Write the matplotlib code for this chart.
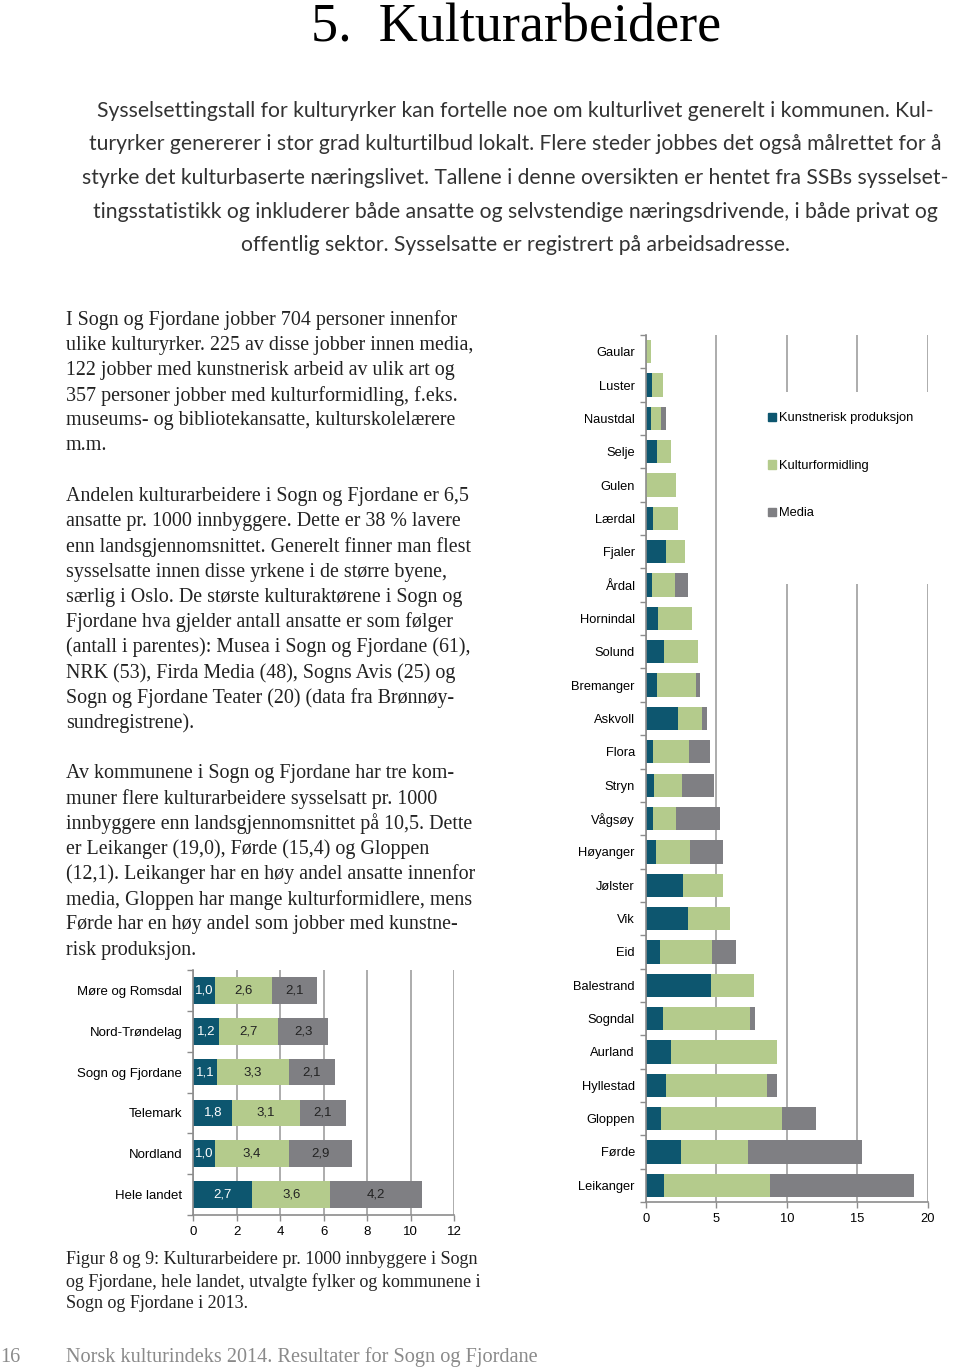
import matplotlib
matplotlib.use('Agg')
import matplotlib.pyplot as plt
import numpy as np
from matplotlib.patches import Rectangle, Patch

W, H = 960, 1368

# --- data -------------------------------------------------------------
kommuner = ['Gaular', 'Luster', 'Naustdal', 'Selje', 'Gulen', 'Lærdal', 'Fjaler',
            'Årdal', 'Hornindal', 'Solund', 'Bremanger', 'Askvoll', 'Flora', 'Stryn',
            'Vågsøy', 'Høyanger', 'Jølster', 'Vik', 'Eid', 'Balestrand', 'Sogndal',
            'Aurland', 'Hyllestad', 'Gloppen', 'Førde', 'Leikanger']
k_kunst = [0.0, 0.4, 0.35, 0.75, 0.0, 0.5, 1.4, 0.4, 0.85, 1.25, 0.75, 2.3, 0.5, 0.6,
           0.5, 0.7, 2.6, 3.0, 1.0, 4.6, 1.2, 1.75, 1.4, 1.05, 2.45, 1.3]
k_formid = [0.33, 0.8, 0.75, 1.05, 2.15, 1.8, 1.4, 1.65, 2.4, 2.45, 2.8, 1.7, 2.55, 1.95,
            1.65, 2.4, 2.9, 2.95, 3.7, 3.05, 6.15, 7.55, 7.2, 8.6, 4.8, 7.5]
k_media = [0.0, 0.0, 0.35, 0.0, 0.0, 0.0, 0.0, 0.9, 0.0, 0.0, 0.25, 0.3, 1.5, 2.25,
           3.1, 2.4, 0.0, 0.0, 1.7, 0.0, 0.4, 0.0, 0.7, 2.45, 8.1, 10.2]

fylker = ['Møre og Romsdal', 'Nord-Trøndelag', 'Sogn og Fjordane', 'Telemark',
          'Nordland', 'Hele landet']
f_kunst = [1.0, 1.2, 1.1, 1.8, 1.0, 2.7]
f_formid = [2.6, 2.7, 3.3, 3.1, 3.4, 3.6]
f_media = [2.1, 2.3, 2.1, 2.1, 2.9, 4.2]

serier = ['Kunstnerisk produksjon', 'Kulturformidling', 'Media']

tittel = '5.  Kulturarbeidere'
ingress = [
    'Sysselsettingstall for kulturyrker kan fortelle noe om kulturlivet generelt i kommunen. Kul-',
    'turyrker genererer i stor grad kulturtilbud lokalt. Flere steder jobbes det også målrettet for å',
    'styrke det kulturbaserte næringslivet. Tallene i denne oversikten er hentet fra SSBs sysselset-',
    'tingsstatistikk og inkluderer både ansatte og selvstendige næringsdrivende, i både privat og',
    'offentlig sektor. Sysselsatte er registrert på arbeidsadresse.',
]
brodtekst = [
    'I Sogn og Fjordane jobber 704 personer innenfor',
    'ulike kulturyrker. 225 av disse jobber innen media,',
    '122 jobber med kunstnerisk arbeid av ulik art og',
    '357 personer jobber med kulturformidling, f.eks.',
    'museums- og bibliotekansatte, kulturskolelærere',
    'm.m.',
    '',
    'Andelen kulturarbeidere i Sogn og Fjordane er 6,5',
    'ansatte pr. 1000 innbyggere. Dette er 38 % lavere',
    'enn landsgjennomsnittet. Generelt finner man flest',
    'sysselsatte innen disse yrkene i de større byene,',
    'særlig i Oslo. De største kulturaktørene i Sogn og',
    'Fjordane hva gjelder antall ansatte er som følger',
    '(antall i parentes): Musea i Sogn og Fjordane (61),',
    'NRK (53), Firda Media (48), Sogns Avis (25) og',
    'Sogn og Fjordane Teater (20) (data fra Brønnøy-',
    'sundregistrene).',
    '',
    'Av kommunene i Sogn og Fjordane har tre kom-',
    'muner flere kulturarbeidere sysselsatt pr. 1000',
    'innbyggere enn landsgjennomsnittet på 10,5. Dette',
    'er Leikanger (19,0), Førde (15,4) og Gloppen',
    '(12,1). Leikanger har en høy andel ansatte innenfor',
    'media, Gloppen har mange kulturformidlere, mens',
    'Førde har en høy andel som jobber med kunstne-',
    'risk produksjon.',
]
figurtekst = [
    'Figur 8 og 9: Kulturarbeidere pr. 1000 innbyggere i Sogn',
    'og Fjordane, hele landet, utvalgte fylker og kommunene i',
    'Sogn og Fjordane i 2013.',
]
sidenr = '16'
bunntekst = 'Norsk kulturindeks 2014. Resultater for Sogn og Fjordane'

BLUE = '#0d566f'
GREEN = '#b4cb8c'
GREY = '#7f7f83'
AXC = '#8c8c8c'

plt.rcParams['font.family'] = ['Liberation Sans', 'DejaVu Sans']


def px(x, y):
    return x / W, 1 - y / H


def rect(l, t, r, b):
    return [l / W, 1 - b / H, (r - l) / W, (b - t) / H]


def style(ax, n, xmax, step, fs):
    ax.set_xlim(0, xmax)
    ax.set_ylim(n - 0.5, -0.5)
    ax.set_xticks(np.arange(0, xmax + 0.1, step))
    ax.set_yticks(np.arange(-0.5, n, 1.0), minor=True)
    ax.tick_params(axis='y', which='major', length=0, pad=8, labelsize=fs)
    ax.tick_params(axis='y', which='minor', length=4, color=AXC, width=1)
    ax.tick_params(axis='x', length=4, color=AXC, width=1, labelsize=fs, pad=4)
    for s in ['top', 'right']:
        ax.spines[s].set_visible(False)
    for s in ['left', 'bottom']:
        ax.spines[s].set_color(AXC)
        ax.spines[s].set_linewidth(1.2)
    ax.grid(axis='x', color='#a6a6a6', linewidth=1.3)
    ax.set_axisbelow(True)


fig = plt.figure(figsize=(W / 100, H / 100), dpi=100)

# --- kommune chart ------------------------------------------------------
ax = fig.add_axes(rect(646, 335, 927.7, 1202))
y = np.arange(len(kommuner))
a = np.array(k_kunst)
b = np.array(k_formid)
c = np.array(k_media)
ax.barh(y, a, 0.7, color=BLUE)
ax.barh(y, b, 0.7, left=a, color=GREEN)
ax.barh(y, c, 0.7, left=a + b, color=GREY)
ax.set_yticks(y)
ax.set_yticklabels(kommuner)
style(ax, len(kommuner), 20, 5, 9.3)

# white box behind legend (cuts the gridlines)
fig.patches.append(Rectangle(px(735, 584), 225 / W, 192 / H, transform=fig.transFigure,
                             facecolor='white', edgecolor='none', zorder=1))
handles = [Patch(color=col) for col in [BLUE, GREEN, GREY]]
fig.legend(handles, serier, loc='upper left', bbox_to_anchor=px(762, 406),
           frameon=False, fontsize=9.3, handlelength=0.6, handleheight=0.6,
           handletextpad=0.25, labelspacing=2.75, borderpad=0)

# --- fylke chart --------------------------------------------------------
ax2 = fig.add_axes(rect(193.3, 970, 454.3, 1215))
y2 = np.arange(len(fylker))
a2 = np.array(f_kunst)
b2 = np.array(f_formid)
c2 = np.array(f_media)
ax2.barh(y2, a2, 0.65, color=BLUE)
ax2.barh(y2, b2, 0.65, left=a2, color=GREEN)
ax2.barh(y2, c2, 0.65, left=a2 + b2, color=GREY)
ax2.set_yticks(y2)
ax2.set_yticklabels(fylker)
style(ax2, len(fylker), 12, 2, 9.5)
for i in range(len(fylker)):
    for left, val, col in [(0, a2[i], 'white'), (a2[i], b2[i], '#222222'),
                           (a2[i] + b2[i], c2[i], '#222222')]:
        ax2.text(left + val / 2, i, f'{val:.1f}'.replace('.', ','), ha='center',
                 va='center', color=col, fontsize=9.5)

# --- page text ----------------------------------------------------------
SERIF = ['Liberation Serif', 'DejaVu Serif']
fig.text(*px(516, 42), tittel, ha='center', va='baseline', fontsize=39, family=SERIF)

for i, line in enumerate(ingress):
    fig.text(*px(515, 111 + i * 33.5), line, ha='center', va='center',
             fontsize=15.2, family=['Lato', 'DejaVu Sans'], color='#333333')

for i, line in enumerate(brodtekst):
    if line:
        fig.text(*px(66, 320 + i * 25.2), line, ha='left', va='center',
                 fontsize=14.4, family=SERIF, color='#222222')

for i, line in enumerate(figurtekst):
    fig.text(*px(66, 1260 + i * 22), line, ha='left', va='center',
             fontsize=13, family=SERIF, color='#222222')

fig.text(*px(0, 1357), sidenr, ha='left', va='center', fontsize=14.5,
         family=SERIF, color='#8a8a8a')
fig.text(*px(66, 1357), bunntekst, ha='left', va='center', fontsize=14.6,
         family=SERIF, color='#8a8a8a')

fig.savefig('out.png', dpi=100)
